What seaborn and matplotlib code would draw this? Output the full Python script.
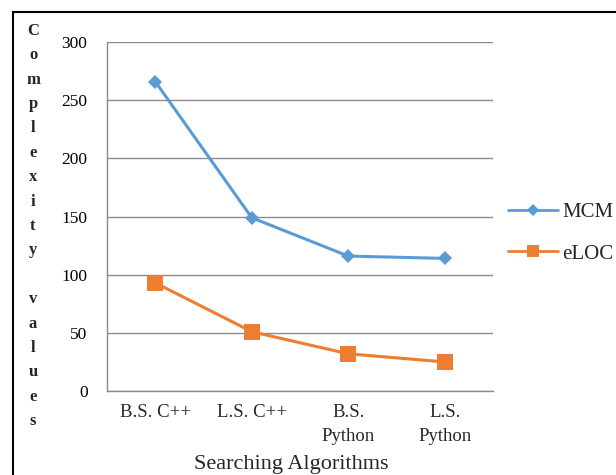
import matplotlib
matplotlib.use("Agg")
import matplotlib.pyplot as plt
import seaborn as sns
import pandas as pd
from matplotlib.patches import Rectangle
from matplotlib.lines import Line2D

categories = ["B.S. C++", "L.S. C++", "B.S.\nPython", "L.S.\nPython"]
mcm = [266, 149, 116, 114]
eloc = [93, 51, 32, 25]
series_names = ["MCM", "eLOC"]
y_ticks = [0, 50, 100, 150, 200, 250, 300]

df = pd.DataFrame({
    "Algorithm": categories * 2,
    "Value": mcm + eloc,
    "Series": [series_names[0]] * 4 + [series_names[1]] * 4,
})

sns.set_theme(style="white")
plt.rcParams["font.family"] = ["Liberation Serif", "DejaVu Serif"]

fig = plt.figure(figsize=(6.16, 4.75), dpi=100)
ax = fig.add_axes([0.1737, 0.1768, 0.6266, 0.7347])

blue = "#5B9BD5"
orange = "#ED7D31"

sns.lineplot(data=df, x="Algorithm", y="Value", hue="Series", style="Series",
             palette={"MCM": blue, "eLOC": orange},
             markers={"MCM": "D", "eLOC": "s"}, dashes=False, sort=False,
             linewidth=2.2, markeredgewidth=0, legend=False, ax=ax)
for line in ax.get_lines():
    if line.get_marker() == "D":
        line.set_markersize(7)
    elif line.get_marker() == "s":
        line.set_markersize(11)

ax.set_xlim(-0.5, 3.5)
ax.set_ylim(0, 300)
ax.set_yticks(y_ticks)
ax.set_yticklabels([str(v) for v in y_ticks], fontsize=12.5)
ax.yaxis.grid(True, color="#8a8a8a", linewidth=1.0)
ax.set_axisbelow(True)

ax.set_xticks([-0.5, 0.5, 1.5, 2.5, 3.5])
ax.set_xticklabels([])
ax.set_xticks([0, 1, 2, 3], minor=True)
ax.set_xticklabels(categories, minor=True, fontsize=13.5, linespacing=1.6, va="top")
ax.tick_params(axis="x", which="major", direction="out", length=6, color="#8a8a8a", width=1)
ax.tick_params(axis="x", which="minor", length=0, pad=9)
ax.tick_params(axis="y", direction="out", length=6, color="#8a8a8a", width=1, pad=8)
ax.tick_params(axis="both", colors="#8a8a8a", labelcolor="black")

for s in ["top", "right"]:
    ax.spines[s].set_visible(False)
for s in ["left", "bottom"]:
    ax.spines[s].set_color("#8a8a8a")
    ax.spines[s].set_linewidth(1)

ax.set_xlabel("")
ax.set_ylabel("")
fig.text(291 / 616, 1 - 464 / 475, "Searching Algorithms", ha="center", va="center", fontsize=16)

ylabel = "\n".join(list("Complexity values"))
fig.text(33 / 616, 1 - 226 / 475, ylabel, ha="center", va="center", fontsize=12,
         linespacing=1.7, fontweight="bold")

handles = [Line2D([], [], color=blue, marker="D", markersize=6, linewidth=2, markeredgewidth=0),
           Line2D([], [], color=orange, marker="s", markersize=9, linewidth=2, markeredgewidth=0)]
fig.legend(handles, series_names, loc="center left",
           bbox_to_anchor=(500 / 616, 1 - 233 / 475), frameon=False,
           fontsize=15, handlelength=2.4, labelspacing=1.05, handletextpad=0.2,
           borderpad=0.4, borderaxespad=0)

fig.add_artist(Rectangle((13 / 616, -0.1), 1.2, (1 - 12 / 475) + 0.1, transform=fig.transFigure,
                         fill=False, edgecolor="black", linewidth=1.5))

fig.savefig("out.png", dpi=100)
